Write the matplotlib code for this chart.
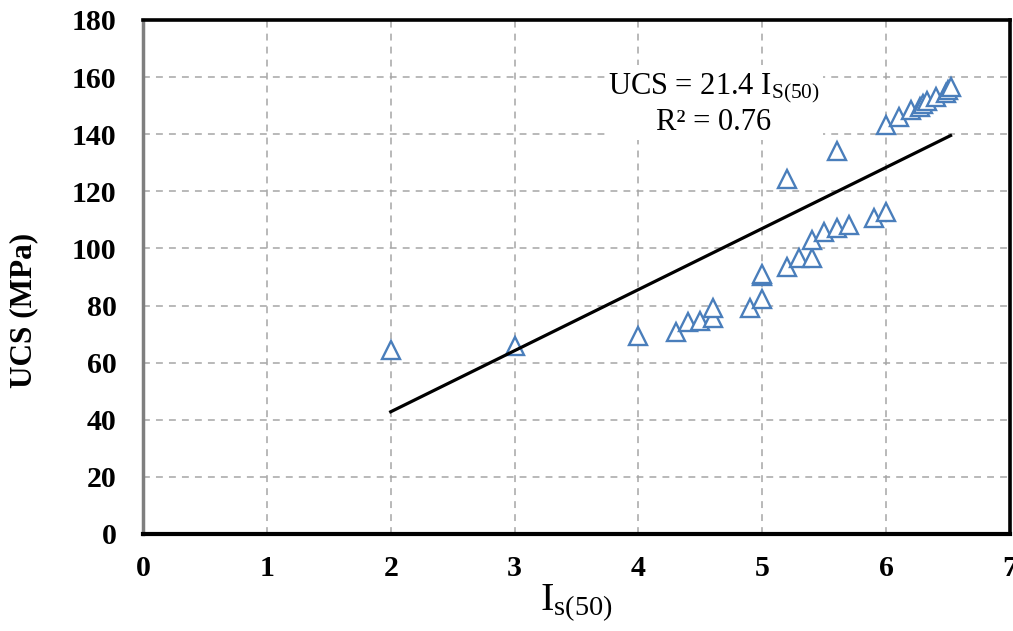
import numpy as np
import matplotlib
matplotlib.use("Agg")
import matplotlib.pyplot as plt

plt.rcParams['font.family'] = ['Liberation Serif', 'DejaVu Serif']
plt.rcParams['mathtext.fontset'] = 'custom'
plt.rcParams['mathtext.rm'] = 'Liberation Serif'
plt.rcParams['mathtext.it'] = 'Liberation Serif:italic'
plt.rcParams['mathtext.bf'] = 'Liberation Serif:bold'

# point load index vs UCS
is50 = [2.0, 3.0, 4.0, 4.3, 4.4, 4.5, 4.6, 4.6, 4.9, 5.0, 5.0, 5.0, 5.2, 5.3, 5.4,
        5.4, 5.5, 5.6, 5.7, 5.9, 6.0, 5.2, 5.6, 6.0, 6.1, 6.2, 6.27, 6.3, 6.33,
        6.4, 6.48, 6.5, 6.52]
ucs = [64.3, 65.8, 69.3, 70.8, 74.3, 74.7, 75.8, 79.0, 79.0, 82.4, 90.2, 91.0,
       93.6, 96.5, 96.8, 102.9, 105.8, 107.0, 108.2, 110.8, 112.9, 124.4, 134.2,
       143.4, 146.1, 148.5, 149.6, 150.6, 151.5, 153.1, 154.6, 155.5, 156.5]

slope = 21.4
r2 = 0.76

xticks = [0, 1, 2, 3, 4, 5, 6, 7]
yticks = [0, 20, 40, 60, 80, 100, 120, 140, 160, 180]

fig = plt.figure(figsize=(10.13, 6.31), dpi=100, facecolor='white')
ax = fig.add_axes([143/1013, 1 - 534/631, (1010 - 143)/1013, (534 - 20)/631])

ax.set_xlim(0, 7)
ax.set_ylim(0, 180)
ax.set_xticks(xticks)
ax.set_yticks(yticks)
ax.grid(True, color='#a6a6a6', linestyle=(0, (4.5, 4)), linewidth=1.1)
ax.set_axisbelow(True)

# scatter
ax.plot(is50, ucs, linestyle='none', marker='^', markersize=13.5,
        markerfacecolor='white', markeredgecolor='#4a7ebb', markeredgewidth=1.7,
        zorder=3)

# trendline through origin
xl = np.array([min(is50), max(is50)])
ax.plot(xl, slope * xl, color='black', lw=2.3, zorder=4)

ax.text(4.61, 150.5, "UCS = %.1f I$_{\\mathrm{S(50)}}$\nR² = %.2f" % (slope, r2),
        fontsize=22, ha='center', va='center', linespacing=1.15,
        bbox=dict(facecolor='white', edgecolor='none', pad=2), zorder=5)

# frame
for s in ['top', 'right', 'bottom']:
    ax.spines[s].set_color('black')
    ax.spines[s].set_linewidth(2.6)
ax.spines['bottom'].set_linewidth(3)
ax.spines['left'].set_color('#7f7f7f')
ax.spines['left'].set_linewidth(2.5)

ax.tick_params(axis='both', length=0, labelsize=21.5)
ax.tick_params(axis='y', pad=19)
ax.tick_params(axis='x', pad=15)
for lab in ax.get_xticklabels() + ax.get_yticklabels():
    lab.set_fontweight('bold')

ax.set_ylabel("UCS (MPa)", fontsize=22.5, fontweight='bold')
ax.yaxis.set_label_coords(-0.121, 0.434)
ax.set_xlabel("I$_{\\mathrm{s(50)}}$", fontsize=29, labelpad=1)

plt.savefig("out.png", dpi=100, facecolor='white')
plt.close()
